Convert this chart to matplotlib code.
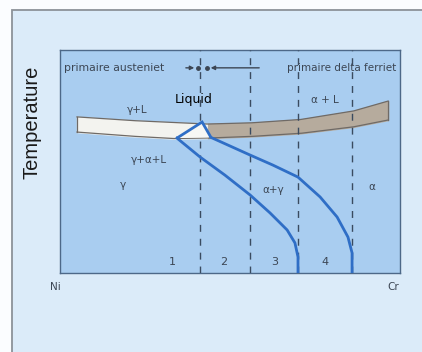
import numpy as np
import matplotlib.pyplot as plt
from matplotlib.patches import Rectangle, Polygon

# composition (% of the way from Ni to Cr) and relative temperature
band_x = [5, 20.6, 33.2, 43.2, 55.9, 70.6, 86.2, 96.5]
band_top = [70.0, 68.4, 67.5, 66.8, 67.3, 68.8, 72.6, 77.1]
band_bottom = [63.2, 61.4, 60.3, 60.5, 61.2, 62.6, 65.5, 68.6]
band_split = 43.5

triangle_x = [34.4, 41.8, 44.4]
triangle_t = [60.5, 67.7, 60.8]

curve1_x = [34.4, 41.2, 48.5, 55.9, 61.8, 66.8, 69.1, 70.0, 70.0]
curve1_t = [60.5, 52.0, 43.9, 35.0, 26.9, 19.3, 13.5, 7.2, 0.0]
curve2_x = [44.4, 55.9, 62.6, 70.0, 76.5, 81.5, 84.7, 85.9, 85.9]
curve2_t = [60.8, 52.9, 48.4, 43.0, 34.1, 25.1, 16.1, 9.0, 0.0]

dashed_x = [41.2, 55.9, 70.0, 85.9]
zone_labels = ["1", "2", "3", "4"]
zone_x = [32.9, 48.2, 63.2, 77.9]

phase_labels = ["γ+L", "α + L", "γ+α+L", "γ", "α+γ", "α"]
phase_x = [22.6, 77.9, 26.2, 18.5, 62.6, 91.8]
phase_t = [73.1, 77.6, 50.7, 39.5, 37.2, 38.6]

text_col = "#3c4654"
blue = "#2f6ec6"

fig = plt.figure(figsize=(4.22, 3.52), dpi=100)
fig.patch.set_facecolor("#fbfdff")

# light panel behind the diagram
bg = fig.add_axes([0, 0, 1, 1], zorder=-5)
bg.set_xlim(0, 1)
bg.set_ylim(0, 1)
bg.axis("off")
bg.add_patch(Rectangle((12 / 422, -0.01), 1.0, (352 - 10) / 352 + 0.01,
                       facecolor="#dbebf9", edgecolor="#8c9299", linewidth=1.3))

ax = fig.add_axes([60 / 422, 79 / 352, 340 / 422, 223 / 352])
ax.set_facecolor("#a9cdf0")
ax.set_xlim(0, 100)
ax.set_ylim(0, 100)
ax.set_xticks([])
ax.set_yticks([])
for s in ax.spines.values():
    s.set_color("#4d6888")
    s.set_linewidth(1.0)

# liquidus / solidus band
bx = np.array(band_x)
bt = np.array(band_top)
bb = np.array(band_bottom)
xs = np.linspace(bx[0], bx[-1], 300)
top = np.interp(xs, bx, bt)
bot = np.interp(xs, bx, bb)
left = xs <= band_split
right = xs >= band_split
ax.fill_between(xs[left], bot[left], top[left], color="#f3f3ef", zorder=2)
ax.fill_between(xs[right], bot[right], top[right], color="#b6ab9d", zorder=2)
ax.plot(xs, top, color="#6f6a66", lw=0.9, zorder=3)
ax.plot(xs, bot, color="#6f6a66", lw=0.9, zorder=3)
ax.plot([bx[0], bx[0]], [bb[0], bt[0]], color="#6f6a66", lw=0.9, zorder=3)
ax.plot([bx[-1], bx[-1]], [bb[-1], bt[-1]], color="#6f6a66", lw=0.9, zorder=3)

ax.add_patch(Polygon(list(zip(triangle_x, triangle_t)), closed=False,
                     facecolor="#f7f7f4", edgecolor=blue, lw=2.0, zorder=4))

for xv in dashed_x:
    ax.axvline(xv, color="#3a4b60", lw=1.0, ls=(0, (5, 5)), zorder=3.5)

ax.plot(curve1_x, curve1_t, color=blue, lw=2.0, zorder=4, solid_joinstyle="round")
ax.plot(curve2_x, curve2_t, color=blue, lw=2.0, zorder=4, solid_joinstyle="round")

for lab, xv, tv in zip(phase_labels, phase_x, phase_t):
    ax.text(xv, tv, lab, ha="center", va="center", fontsize=7.5, color=text_col, zorder=5)
for lab, xv in zip(zone_labels, zone_x):
    ax.text(xv, 4.9, lab, ha="center", va="center", fontsize=8, color=text_col, zorder=5)

ax.text(39.4, 77.6, "Liquid", ha="center", va="center", fontsize=9, color="black", zorder=5)

# primary solidification arrows
ax.text(1.2, 92, "primaire austeniet", ha="left", va="center", fontsize=7.8, color=text_col)
ax.text(98.8, 92, "primaire delta ferriet", ha="right", va="center", fontsize=7.5, color=text_col)
ax.annotate("", xy=(40.3, 92), xytext=(36.2, 92),
            arrowprops=dict(arrowstyle="-|>", color=text_col, lw=1.0, mutation_scale=6))
ax.annotate("", xy=(43.5, 92), xytext=(59.4, 92),
            arrowprops=dict(arrowstyle="-|>", color=text_col, lw=1.0, mutation_scale=6))
ax.plot([40.6, 43.2], [92, 92], "o", color=text_col, ms=2.5)

ax.text(-1.5, -6.3, "Ni", ha="center", va="center", fontsize=7.5, color=text_col, clip_on=False)
ax.text(97.9, -6.3, "Cr", ha="center", va="center", fontsize=7.5, color=text_col, clip_on=False)

fig.text(32 / 422, 1 - 122 / 352, "Temperature", rotation=90, ha="center", va="center",
         fontsize=14.5, family="Liberation Sans", color="#1a1a1a")

fig.savefig("out.png", dpi=100, facecolor=fig.get_facecolor())
